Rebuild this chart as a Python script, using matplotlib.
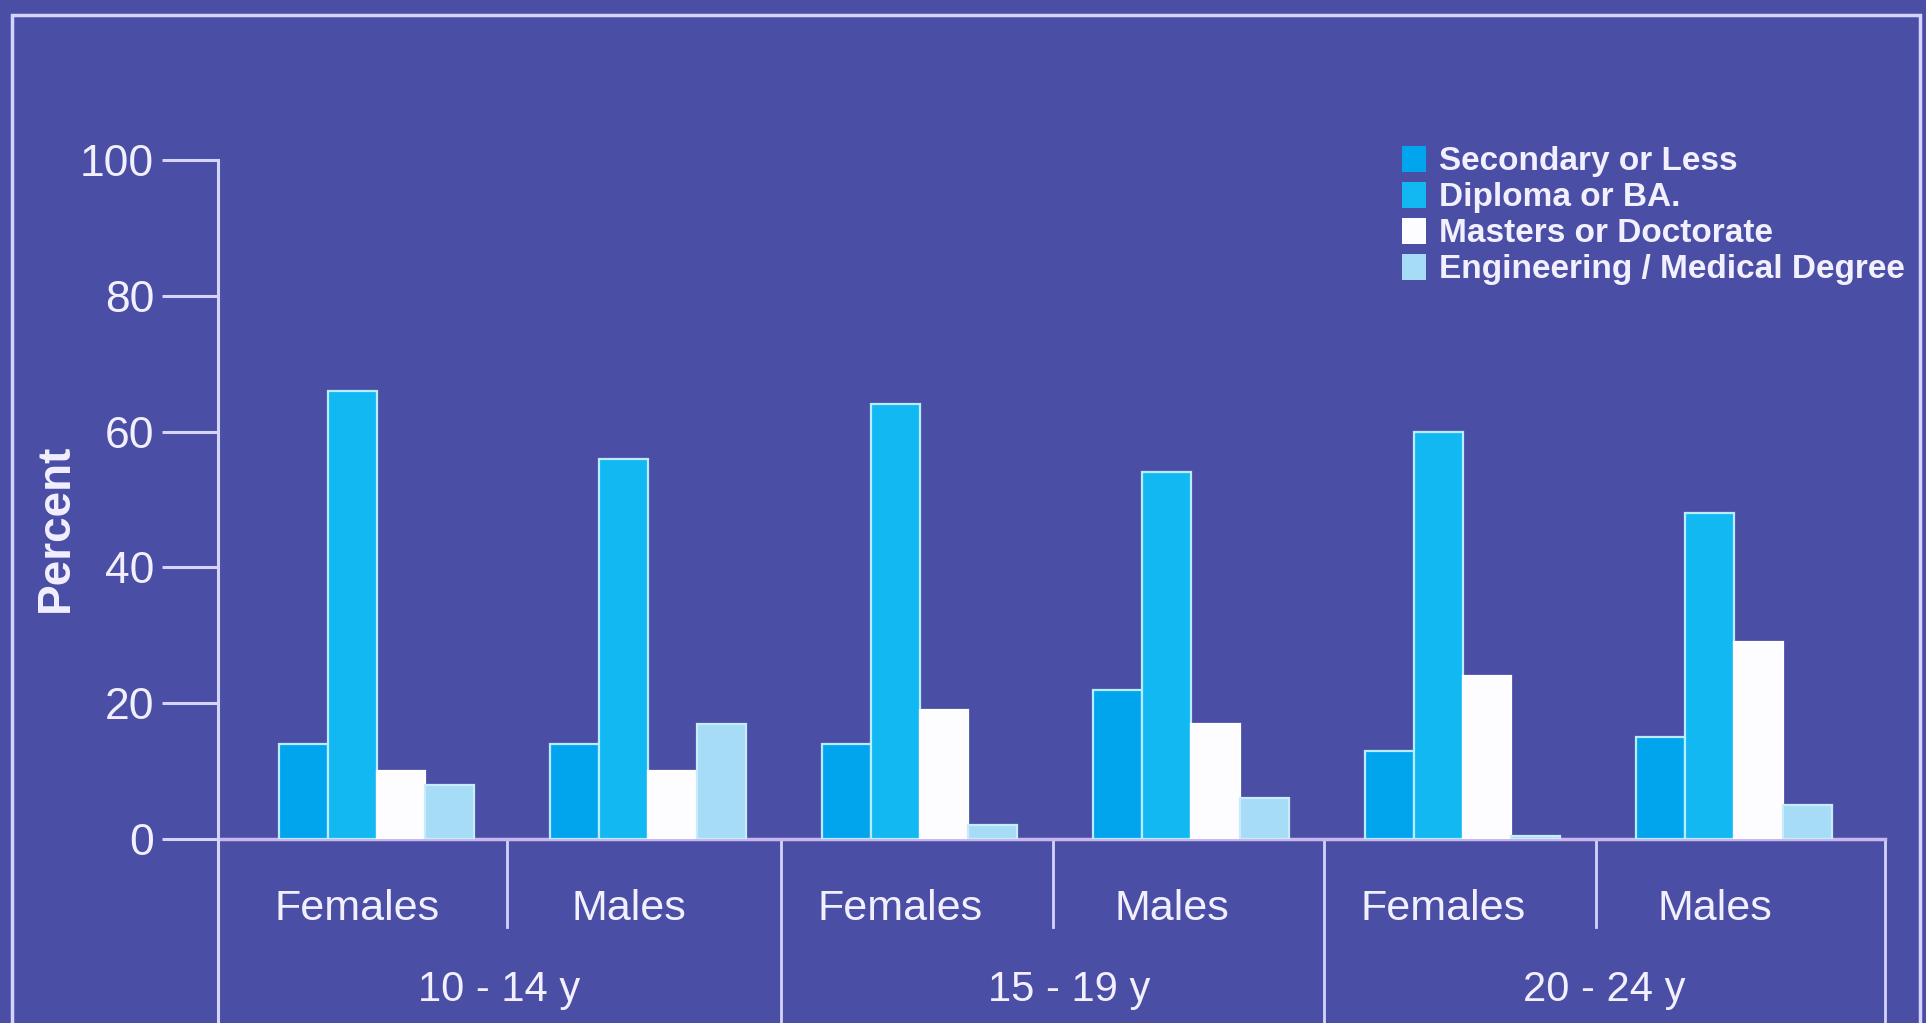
import matplotlib
matplotlib.use('Agg')
import matplotlib.pyplot as plt
import numpy as np
from matplotlib.patches import Patch, Rectangle

plt.rcParams['font.family'] = ['Liberation Sans', 'DejaVu Sans']

# ── Datos ─────────────────────────────────────────────────────────────────────
sexes  = ["Females", "Males", "Females", "Males", "Females", "Males"]
ages   = ["10 - 14 y", "15 - 19 y", "20 - 24 y"]
series = ["Secondary or Less", "Diploma or BA.", "Masters or Doctorate",
          "Engineering / Medical Degree"]

secondary   = [14, 14, 14, 22, 13, 15]
diploma     = [66, 56, 64, 54, 60, 48]
masters     = [10, 10, 19, 17, 24, 29]
engineering = [8, 17, 2, 6, 0.5, 5]

# ── Estilos ───────────────────────────────────────────────────────────────────
BG      = "#4a4fa5"
LINE    = "#d4d4ff"
AXIS_X  = "#c9b6ee"
TXT     = "#f2f0ff"
colors  = ["#00a5ee", "#12b8f2", "#fdfcff", "#a6dcf6"]
edges   = ["#b8ecff", "#b8ecff", "#ffffff", "#c8ecfb"]

W, H = 1926, 1023
fig = plt.figure(figsize=(W / 100, H / 100), dpi=100)
fig.patch.set_facecolor(BG)

x0, x1 = 218, 1885          # px
y0, y1 = 839, 160           # px (0 y 100)
ax = fig.add_axes([x0 / W, 1 - y0 / H, (x1 - x0) / W, (y0 - y1) / H])
ax.set_facecolor(BG)
ax.patch.set_alpha(0)

XL, XR = -0.584, 5.556
x = np.arange(len(sexes))
bw = 0.18
values = [secondary, diploma, masters, engineering]
for k, (vals, c, e) in enumerate(zip(values, colors, edges)):
    ax.bar(x + (k - 1.5) * bw, vals, width=bw, color=c,
           edgecolor=e, linewidth=1.6, zorder=3)

ax.set_xlim(XL, XR)
ax.set_ylim(0, 100)

for s in ["top", "right", "left"]:
    ax.spines[s].set_visible(False)
ax.spines["bottom"].set_color(AXIS_X)
ax.spines["bottom"].set_linewidth(2.5)

ax.set_yticks([0, 20, 40, 60, 80, 100])
ax.tick_params(axis="y", length=40, width=2.2, color=LINE, pad=6,
               labelsize=32, labelcolor=TXT)
ax.set_xticks([])

# Eje y continúa hasta el borde inferior
fig_bottom = -(H - y0) / (y0 - y1)
ax.plot([XL, XL], [1, fig_bottom], transform=ax.get_xaxis_transform(),
        color=LINE, lw=2.2, clip_on=False, zorder=5)

# Separadores de edad (largos) y de sexo (cortos)
age_bounds = [XL, 1.49, 3.49, XR]
short_end = -(927 - y0) / (y0 - y1)
for b in age_bounds[1:]:
    ax.plot([b, b], [0, fig_bottom], transform=ax.get_xaxis_transform(),
            color=LINE, lw=2, clip_on=False)
for b in [0.48, 2.49, 4.49]:
    ax.plot([b, b], [0, short_end], transform=ax.get_xaxis_transform(),
            color=LINE, lw=2, clip_on=False)

# Etiquetas de categorías
sex_y = -(909 - y0) / (y0 - y1)
age_y = -(990 - y0) / (y0 - y1)
for i, s in enumerate(sexes):
    ax.text(i - 0.07, sex_y, s, transform=ax.get_xaxis_transform(),
            ha="center", va="center", fontsize=31, color=TXT)
for j, a in enumerate(ages):
    mid = (age_bounds[j] + age_bounds[j + 1]) / 2
    if j == 1:
        mid += 0.06
    ax.text(mid, age_y, a, transform=ax.get_xaxis_transform(),
            ha="center", va="center", fontsize=30, color=TXT)

fig.text(56 / W, 1 - 528 / H, "Percent", rotation=90, ha="center",
         va="center", fontsize=33, fontweight="bold", color=TXT)

# Leyenda
handles = [Patch(facecolor=c, edgecolor="none") for c in colors]
leg = fig.legend(handles, series, loc="upper left",
                 bbox_to_anchor=(1402 / W, 1 - 146 / H),
                 frameon=False, fontsize=24, borderpad=0, borderaxespad=0,
                 labelspacing=0.14, handlelength=0.72, handleheight=0.8,
                 handletextpad=0.4)
for t in leg.get_texts():
    t.set_color(TXT)
    t.set_fontweight("bold")

# Marco exterior
fig.add_artist(Rectangle((12 / W, -0.05), (1920 - 12) / W, 1.05 - 15 / H,
                         transform=fig.transFigure, fill=False,
                         edgecolor=LINE, lw=2.5))

plt.savefig("out.png", dpi=100, facecolor=fig.get_facecolor())
plt.close()
